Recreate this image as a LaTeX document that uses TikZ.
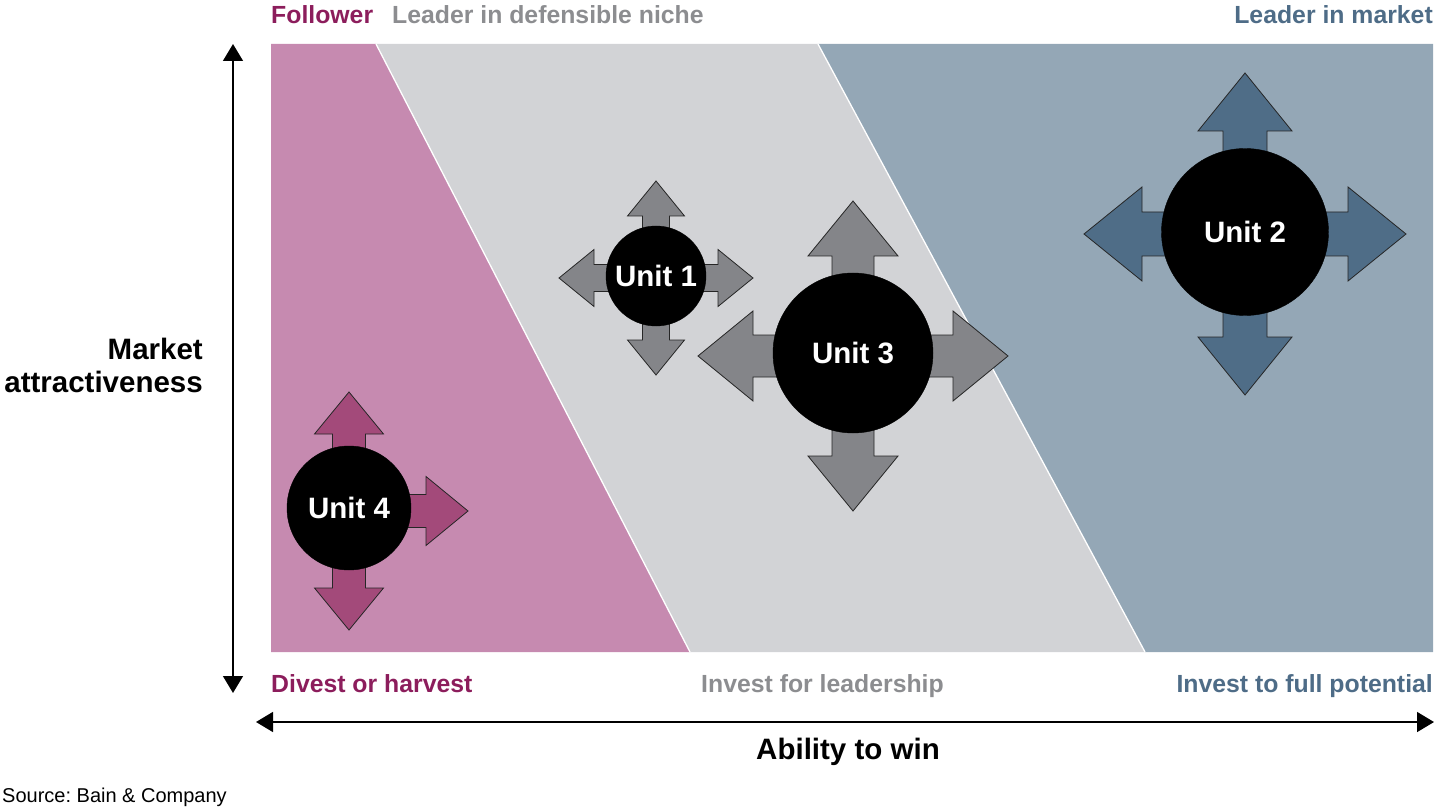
\documentclass[tikz,border=0pt]{standalone}
\usepackage{fontspec}
\setmainfont{Liberation Sans}
\usetikzlibrary{arrows.meta}
\frenchspacing
\definecolor{pinkbg}{HTML}{C68AB0}
\definecolor{greybg}{HTML}{D2D3D6}
\definecolor{bluebg}{HTML}{94A7B6}
\definecolor{pinkarr}{HTML}{A34A7A}
\definecolor{greyarr}{HTML}{848589}
\definecolor{bluearr}{HTML}{4F6D87}
\definecolor{pinktxt}{HTML}{8C1D5C}
\definecolor{greytxt}{HTML}{8C8D90}
\definecolor{bluetxt}{HTML}{4E6C87}
\newcommand{\uarrow}[7]{%
  \begin{scope}[shift={#1}, rotate=#2]
    \draw[arrowshape, fill=#7] (0,-#6) -- ({#3-#4},-#6) -- ({#3-#4},-#5) -- (#3,0)
      -- ({#3-#4},#5) -- ({#3-#4},#6) -- (0,#6) -- cycle;
  \end{scope}}
\begin{document}
\begin{tikzpicture}[x=1pt,y=-1pt,
  arrowshape/.style={draw=black!85, line width=0.8pt, line join=miter},
  unitc/.style={circle, fill=black, draw=black, inner sep=0pt, text=white,
    font=\bfseries\fontsize{29.5}{33}\selectfont},
  lbl/.style={inner sep=0pt, font=\bfseries\fontsize{24.8}{28}\selectfont},
  axlbl/.style={inner sep=0pt, font=\bfseries\fontsize{29.5}{33}\selectfont},
  axis/.style={line width=1.5pt, {Triangle[length=17pt,width=20pt]}-{Triangle[length=17pt,width=20pt]}},
  sep/.style={white, line width=1.3pt}]
\useasboundingbox (0,0) rectangle (1440,810);
% regions
\fill[pinkbg] (271,44) -- (376,44) -- (690,652) -- (271,652) -- cycle;
\fill[greybg] (376,44) -- (818,44) -- (1145,652) -- (690,652) -- cycle;
\fill[bluebg] (818,44) -- (1433,44) -- (1433,652) -- (1145,652) -- cycle;
\draw[sep] (376,44) -- (690,652);
\draw[sep] (818,44) -- (1145,652);
% axes
\coordinate (vtop) at (233,44);
\coordinate (vbot) at (233,693);
\coordinate (hl) at (256,722);
\coordinate (hr) at (1434,722);
\draw[axis] (vbot) -- (vtop);
\draw[axis] (hl) -- (hr);
% Unit 2 arrows
\uarrow{(1245,234)}{90}{161}{58}{47}{22}{bluearr}
\uarrow{(1245,234)}{270}{161}{58}{47}{22}{bluearr}
\uarrow{(1245,234)}{0}{161}{58}{47}{22}{bluearr}
\uarrow{(1245,234)}{180}{161}{58}{47}{22}{bluearr}
% Unit 1 arrows
\uarrow{(656,278)}{90}{97}{35}{28.5}{13.5}{greyarr}
\uarrow{(656,278)}{270}{97}{35}{28.5}{13.5}{greyarr}
\uarrow{(656,278)}{0}{97}{35}{28.5}{13.5}{greyarr}
\uarrow{(656,278)}{180}{97}{35}{28.5}{13.5}{greyarr}
% Unit 3 arrows
\uarrow{(853,356)}{90}{155}{55}{45}{21}{greyarr}
\uarrow{(853,356)}{270}{155}{55}{45}{21}{greyarr}
\uarrow{(853,356)}{0}{155}{55}{45}{21}{greyarr}
\uarrow{(853,356)}{180}{155}{55}{45}{21}{greyarr}
% Unit 4 arrows
\uarrow{(349,511)}{90}{119}{42}{34.5}{16.5}{pinkarr}
\uarrow{(349,511)}{270}{119}{42}{34.5}{16.5}{pinkarr}
\uarrow{(349,511)}{0}{119}{42}{34.5}{16.5}{pinkarr}
% circles
\node[unitc, minimum size=167pt] (u2) at (1245,232) {Unit 2};
\node[unitc, minimum size=100pt] (u1) at (656,276) {Unit 1};
\node[unitc, minimum size=160pt] (u3) at (853,353) {Unit 3};
\node[unitc, minimum size=124pt] (u4) at (349,508) {Unit 4};
% labels
\node[lbl, text=pinktxt, anchor=base west] (follower) at (271,23.5) {Follower};
\node[lbl, text=greytxt, anchor=base west] (niche) at (392,23.5) {Leader in defensible niche};
\node[lbl, text=bluetxt, anchor=base east] (leader) at (1433,23.5) {Leader in market};
\node[lbl, text=pinktxt, anchor=base west] (divest) at (271,692) {Divest or harvest};
\node[lbl, text=greytxt, anchor=base west] (investlead) at (701,692) {Invest for leadership};
\node[lbl, text=bluetxt, anchor=base east] (investfull) at (1433,692) {Invest to full potential};
\node[axlbl, anchor=base east] (mk1) at (203,359) {Market};
\node[axlbl, anchor=base east] (mk2) at (203,392) {attractiveness};
\node[axlbl, anchor=base] (ability) at (848,759) {Ability to win};
\node[inner sep=0pt, anchor=base west, font=\fontsize{20}{24}\selectfont] (source) at (2,802) {Source: Bain \& Company};
\end{tikzpicture}
\end{document}
